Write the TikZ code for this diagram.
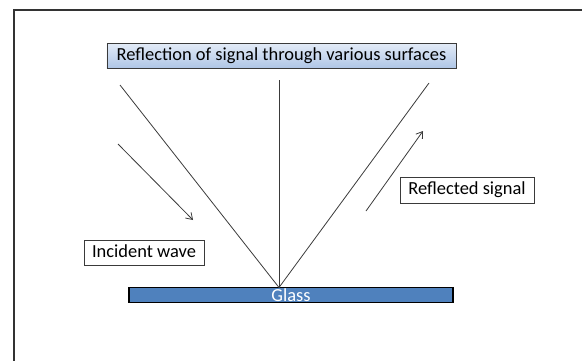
\documentclass[tikz,border=0pt]{standalone}
\usepackage{fontspec}
\setmainfont{Carlito}
\usetikzlibrary{arrows.meta}
\definecolor{glassblue}{HTML}{4F81BD}
\definecolor{titletop}{HTML}{E3EBF7}
\definecolor{titlebot}{HTML}{AFC6E6}
\definecolor{linegray}{HTML}{3A3A3A}
\tikzset{
  lbl/.style={draw=linegray, line width=0.8bp, fill=white, inner sep=0pt, font=\fontsize{18.5}{20}\selectfont, text=black},
  ray/.style={draw=linegray, line width=0.8bp},
  arr/.style={ray, -{Straight Barb[length=6bp,width=8bp]}},
}
\begin{document}
\begin{tikzpicture}[x=1bp,y=-1bp]
\useasboundingbox (0,0) rectangle (582,360);
% frame (open on right and bottom)
\draw[line width=2bp, draw=black!80] (14,362) -- (14,10) -- (584,10);
% title
\node[lbl, top color=titletop, bottom color=titlebot, minimum width=349bp, minimum height=25bp, text height=13bp, text depth=4bp] (title) at (281.5,55.5) {Reflection of signal through various surfaces};
% labels
\node[lbl, minimum width=120bp, minimum height=25bp, text height=13bp, text depth=4bp] (incident) at (144,252.5) {Incident wave};
\node[lbl, minimum width=134bp, minimum height=26bp, text height=13bp, text depth=4bp] (reflected) at (467,190) {Reflected signal};
% glass
\node[draw=black, line width=1.4bp, fill=glassblue, minimum width=324bp, minimum height=15bp, inner sep=0pt] (glass) at (291,295) {};
\node[inner sep=0pt, text=white, font=\fontsize{18.5}{20}\selectfont, anchor=base] (glasslbl) at ([yshift=-6bp]glass.center) {Glass};
% rays
\coordinate (apex) at (279,287.5);
\coordinate (lt) at (120,85);
\coordinate (mt) at (279,80);
\coordinate (rt) at (429,83);
\draw[ray] (lt) -- (apex);
\draw[ray] (mt) -- (apex);
\draw[ray] (rt) -- (apex);
% arrows
\coordinate (ia) at (118,144);
\coordinate (ib) at (193,220);
\draw[arr] (ia) -- (ib);
\coordinate (ra) at (366,211);
\coordinate (rb) at (423,131);
\draw[arr] (ra) -- (rb);
\end{tikzpicture}
\end{document}
